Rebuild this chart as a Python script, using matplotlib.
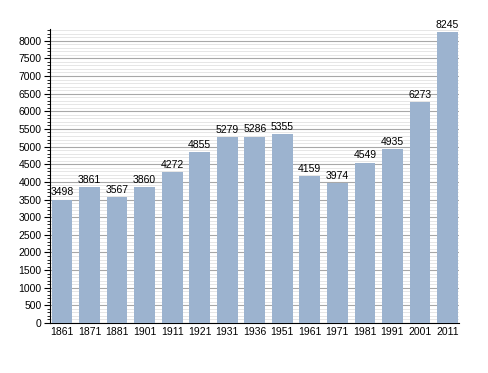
import numpy as np
import matplotlib.pyplot as plt
from matplotlib.ticker import MultipleLocator

plt.rcParams['font.family'] = ['Liberation Sans', 'DejaVu Sans']

years = ["1861", "1871", "1881", "1901", "1911", "1921", "1931", "1936",
         "1951", "1961", "1971", "1981", "1991", "2001", "2011"]
population = [3498, 3861, 3567, 3860, 4272, 4855, 5279, 5286,
              5355, 4159, 3974, 4549, 4935, 6273, 8245]

fig = plt.figure(figsize=(4.88, 3.73), dpi=100)
ax = fig.add_axes([0.1025, 0.134, 0.838, 0.788])

xs = np.arange(len(years))
ax.bar(xs, population, width=0.75, color="#9cb3cf", zorder=3)

for x, v in zip(xs, population):
    ax.text(x, v + 60, str(v), ha="center", va="bottom", fontsize=7.5, zorder=4)

ax.set_xlim(-0.44, 14.42)
ax.set_ylim(0, 8330)
ax.yaxis.set_major_locator(MultipleLocator(500))
ax.yaxis.set_minor_locator(MultipleLocator(100))
ax.grid(which="major", axis="y", color="#a8a8a8", linewidth=0.8, zorder=0)
ax.grid(which="minor", axis="y", color="#e2e2e2", linewidth=0.6, zorder=0)

ax.set_xticks(xs)
ax.set_xticklabels(years)
ax.tick_params(axis="x", length=0, labelsize=7.5, pad=3)
ax.tick_params(axis="y", which="major", length=4, labelsize=7.5, pad=2)
ax.tick_params(axis="y", which="minor", length=2)

for s in ["top", "right"]:
    ax.spines[s].set_visible(False)
ax.spines["left"].set_linewidth(0.8)
ax.spines["bottom"].set_linewidth(0.8)

plt.savefig("out.png", dpi=100)
